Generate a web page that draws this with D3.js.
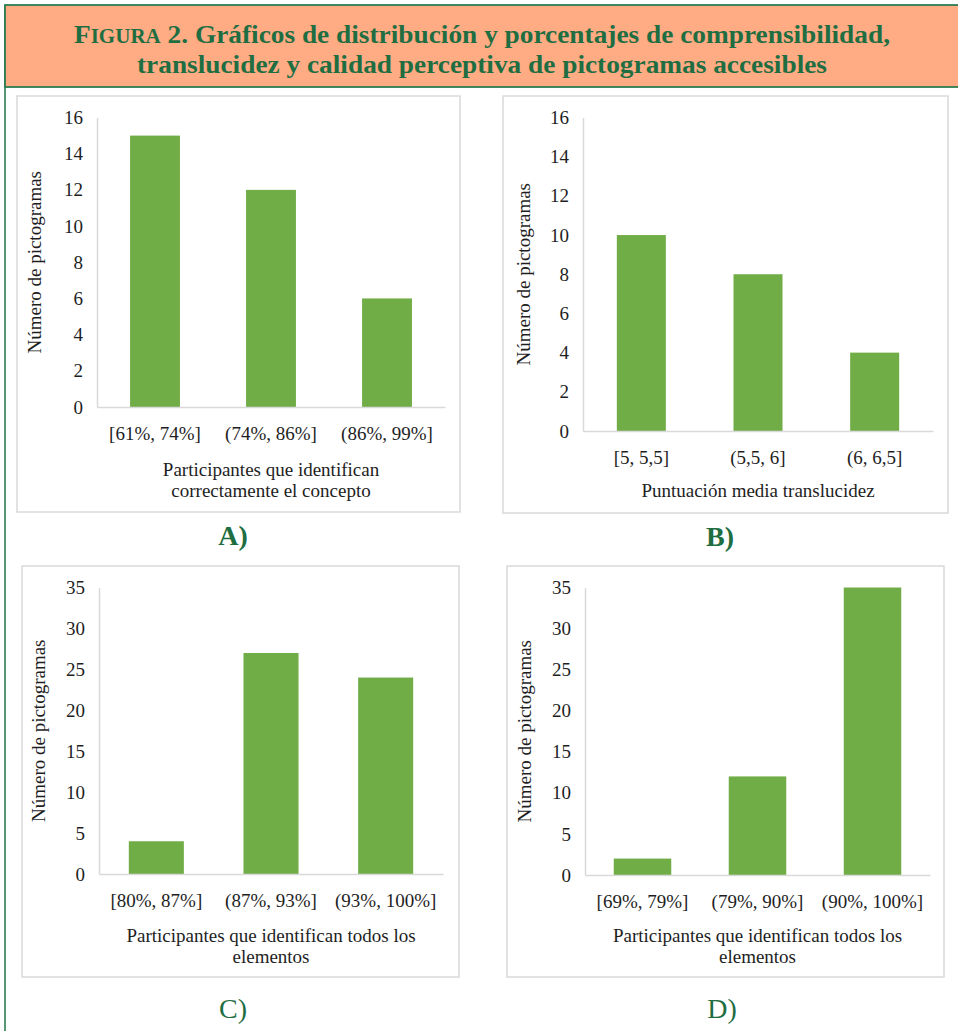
<!DOCTYPE html>
<html>
<head>
<meta charset="utf-8">
<script src="https://cdn.jsdelivr.net/npm/d3@7"></script>
<style>
  html, body { margin: 0; padding: 0; background: #fff; }
  svg { display: block; }
</style>
</head>
<body>
<svg id="fig" width="958" height="1031"></svg>
<script>
// ---- Data ----
const catsA = ["[61%, 74%]", "(74%, 86%]", "(86%, 99%]"];
const valsA = [15, 12, 6];
const ticksA = [0, 2, 4, 6, 8, 10, 12, 14, 16];

const catsB = ["[5, 5,5]", "(5,5, 6]", "(6, 6,5]"];
const valsB = [10, 8, 4];
const ticksB = [0, 2, 4, 6, 8, 10, 12, 14, 16];

const catsC = ["[80%, 87%]", "(87%, 93%]", "(93%, 100%]"];
const valsC = [4, 27, 24];
const ticksC = [0, 5, 10, 15, 20, 25, 30, 35];

const catsD = ["[69%, 79%]", "(79%, 90%]", "(90%, 100%]"];
const valsD = [2, 12, 35];
const ticksD = [0, 5, 10, 15, 20, 25, 30, 35];

const yTitle = "Número de pictogramas";
const xTitleA = ["Participantes que identifican", "correctamente el concepto"];
const xTitleB = ["Puntuación media translucidez"];
const xTitleC = ["Participantes que identifican todos los", "elementos"];
const xTitleD = ["Participantes que identifican todos los", "elementos"];
const panelLabels = ["A)", "B)", "C)", "D)"];

// ---- Styling ----
const BAR = "#70ad47";
const GRID = "#d9d9d9";
const TEXT = "#1e1e1e";
const GREEN = "#1f6e42";
const FRAME = "#2e7d52";
const HEADER = "#ffab84";
const SERIF = "'Liberation Serif', 'Times New Roman', serif";

const svg = d3.select("#fig");

// ---- Frame and header ----
svg.append("line")
  .attr("x1", 5).attr("x2", 5).attr("y1", 5).attr("y2", 1031)
  .attr("stroke", FRAME).attr("stroke-width", 1.6);

svg.append("rect")
  .attr("x", 5).attr("y", 5).attr("width", 960).attr("height", 82)
  .attr("fill", HEADER).attr("stroke", FRAME).attr("stroke-width", 1.8);

const t1 = svg.append("text")
  .attr("x", 482).attr("y", 43)
  .attr("text-anchor", "middle")
  .attr("font-family", SERIF).attr("font-weight", "bold")
  .attr("font-size", 26).attr("fill", GREEN)
  .attr("textLength", 816).attr("lengthAdjust", "spacingAndGlyphs");
t1.append("tspan").text("F");
t1.append("tspan").attr("font-size", 20).text("IGURA");
t1.append("tspan").text(" 2. Gráficos de distribución y porcentajes de comprensibilidad,");

svg.append("text")
  .attr("x", 482).attr("y", 73)
  .attr("text-anchor", "middle")
  .attr("font-family", SERIF).attr("font-weight", "bold")
  .attr("font-size", 26).attr("fill", GREEN)
  .attr("textLength", 690).attr("lengthAdjust", "spacingAndGlyphs")
  .text("translucidez y calidad perceptiva de pictogramas accesibles");

// ---- Panel layout ----
const panels = [
  { cats: catsA, vals: valsA, ticks: ticksA, xTitle: xTitleA, label: panelLabels[0], bold: true,
    box: [17, 96, 460, 512], x0: 97, x1: 445, y0: 407, yTop: 117.5, pad: 0.57,
    yTitleX: 41, xTitleDy: 69, lx: 233, ly: 545 },
  { cats: catsB, vals: valsB, ticks: ticksB, xTitle: xTitleB, label: panelLabels[1], bold: true,
    box: [503, 96, 948, 513], x0: 583, x1: 933, y0: 431, yTop: 117.5, pad: 0.58,
    yTitleX: 530, xTitleDy: 66, lx: 720, ly: 546 },
  { cats: catsC, vals: valsC, ticks: ticksC, xTitle: xTitleC, label: panelLabels[2], bold: false,
    box: [22, 566, 459, 977], x0: 99, x1: 443, y0: 874, yTop: 587.5, pad: 0.52,
    yTitleX: 45, xTitleDy: 68, lx: 233, ly: 1018 },
  { cats: catsD, vals: valsD, ticks: ticksD, xTitle: xTitleD, label: panelLabels[3], bold: false,
    box: [507, 566, 944, 977], x0: 585, x1: 930, y0: 875, yTop: 587.5, pad: 0.5,
    yTitleX: 531, xTitleDy: 67, lx: 722, ly: 1018 }
];

function drawPanel(p) {
  const g = svg.append("g");

  g.append("rect")
    .attr("x", p.box[0]).attr("y", p.box[1])
    .attr("width", p.box[2] - p.box[0]).attr("height", p.box[3] - p.box[1])
    .attr("fill", "#fff").attr("stroke", GRID).attr("stroke-width", 1.5);

  const x = d3.scaleBand().domain(p.cats).range([p.x0, p.x1])
    .paddingInner(p.pad).paddingOuter(p.pad / 2);
  const y = d3.scaleLinear().domain([0, d3.max(p.ticks)]).range([p.y0, p.yTop]);

  g.selectAll("rect.bar").data(p.vals).join("rect")
    .attr("class", "bar")
    .attr("x", (d, i) => x(p.cats[i]))
    .attr("width", x.bandwidth())
    .attr("y", d => y(d))
    .attr("height", d => y(0) - y(d))
    .attr("fill", BAR);

  // vertical axis
  const ya = g.append("g")
    .attr("transform", `translate(${p.x0},0)`)
    .call(d3.axisLeft(y).tickValues(p.ticks).tickSize(0).tickPadding(14));
  ya.select(".domain").attr("stroke", GRID).attr("stroke-width", 1.5);
  ya.selectAll(".tick text")
    .attr("font-family", SERIF).attr("font-size", 19).attr("fill", TEXT);

  // horizontal axis
  const xa = g.append("g")
    .attr("transform", `translate(0,${p.y0})`)
    .call(d3.axisBottom(x).tickSize(0));
  xa.select(".domain").attr("stroke", GRID).attr("stroke-width", 1.5);
  xa.selectAll(".tick text")
    .attr("y", 33).attr("dy", null)
    .attr("font-family", SERIF).attr("font-size", 19).attr("fill", TEXT);

  // axis titles
  g.append("text")
    .attr("transform", `translate(${p.yTitleX},${(p.y0 + p.yTop) / 2}) rotate(-90)`)
    .attr("text-anchor", "middle")
    .attr("font-family", SERIF).attr("font-size", 19).attr("fill", TEXT)
    .text(yTitle);

  g.selectAll("text.xtitle").data(p.xTitle).join("text")
    .attr("class", "xtitle")
    .attr("x", (p.x0 + p.x1) / 2)
    .attr("y", (d, i) => p.y0 + p.xTitleDy + i * 20.5)
    .attr("text-anchor", "middle")
    .attr("font-family", SERIF).attr("font-size", 19).attr("fill", TEXT)
    .text(d => d);

  // panel letter
  svg.append("text")
    .attr("x", p.lx).attr("y", p.ly)
    .attr("text-anchor", "middle")
    .attr("font-family", SERIF).attr("font-size", 28)
    .attr("font-weight", p.bold ? "bold" : "normal")
    .attr("fill", GREEN)
    .text(p.label);
}

panels.forEach(drawPanel);
</script>
</body>
</html>
